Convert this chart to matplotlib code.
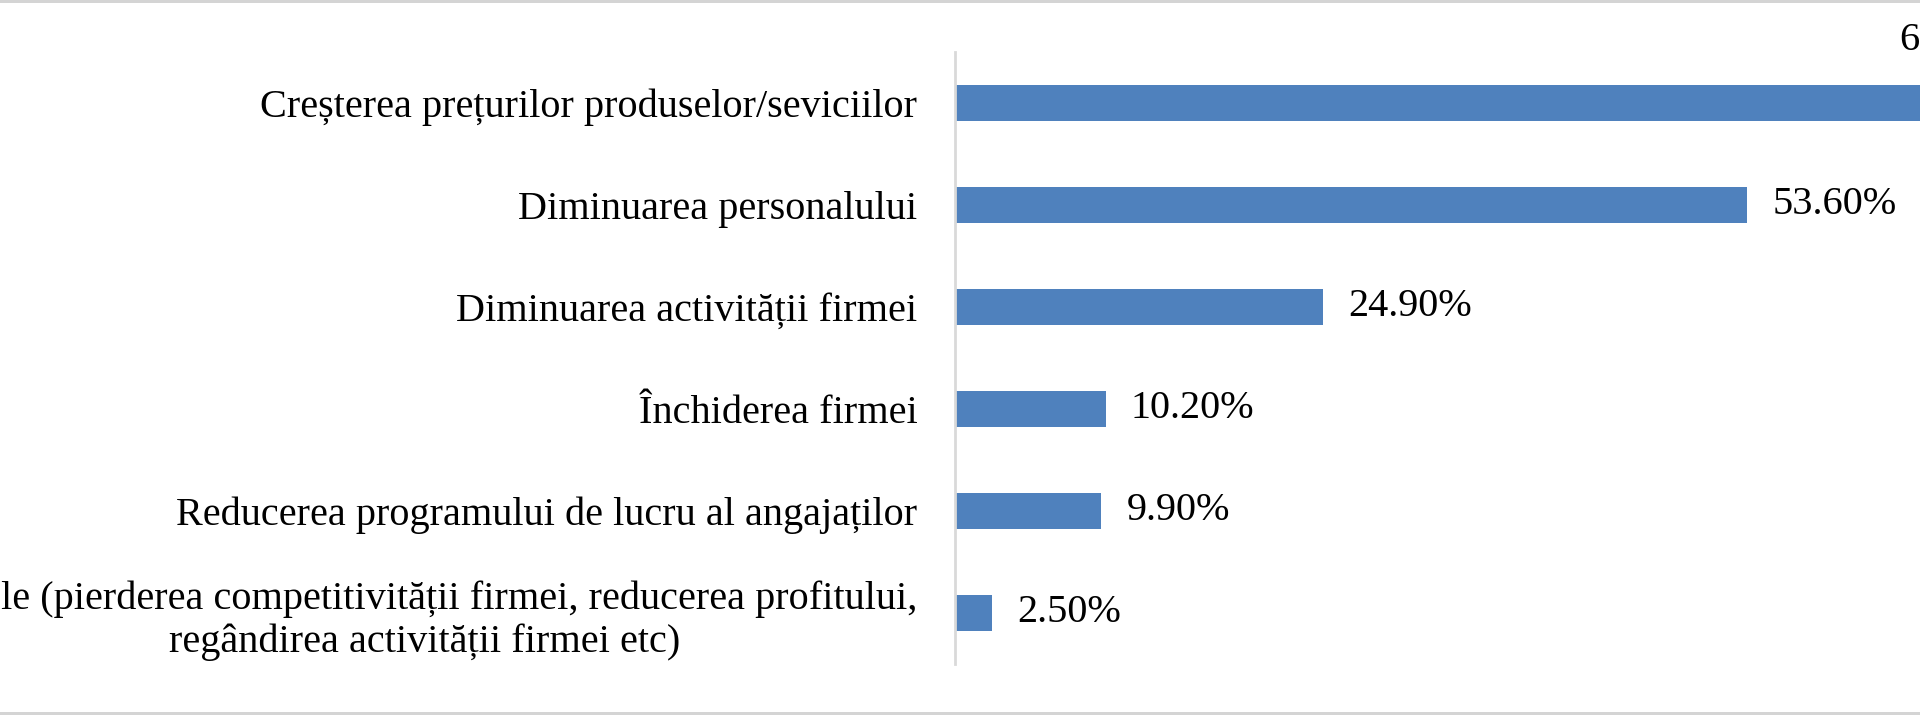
import matplotlib
matplotlib.use("Agg")
import matplotlib.pyplot as plt
from matplotlib.patches import Rectangle

categories = [
    "Creșterea prețurilor produselor/seviciilor",
    "Diminuarea personalului",
    "Diminuarea activității firmei",
    "Închiderea firmei",
    "Reducerea programului de lucru al angajaților",
    "Altele (pierderea competitivității firmei, reducerea profitului,\nregândirea activității firmei etc)",
]
values = [67.30, 53.60, 24.90, 10.20, 9.90, 2.50]
value_labels = ["67.30%", "53.60%", "24.90%", "10.20%", "9.90%", "2.50%"]

plt.rcParams['font.family'] = ['Liberation Serif', 'DejaVu Serif']
FS = 29
W, H = 1920, 715
fig = plt.figure(figsize=(W / 100, H / 100), dpi=100)
fig.patch.set_facecolor('white')

px_per_unit = 14.78
x_max = 70
ax_left = 955
ax_top, ax_bot = 52, 664
ax = fig.add_axes([ax_left / W, 1 - ax_bot / H, x_max * px_per_unit / W, (ax_bot - ax_top) / H])

ypos = list(range(len(categories)))
ax.barh(ypos, values, height=0.35, color='#4F81BD', zorder=2)
ax.set_xlim(0, x_max)
ax.set_ylim(len(categories) - 0.5, -0.5)
ax.set_yticks(ypos)
ax.set_yticklabels(categories, fontsize=FS)
for lab in ax.get_yticklabels():
    lab.set_multialignment('center')
    lab.set_linespacing(1.22)
ax.tick_params(axis='y', length=0, pad=27)
ax.set_xticks([])
for s in ['top', 'right', 'bottom']:
    ax.spines[s].set_visible(False)
ax.spines['left'].set_color('#d9d9d9')
ax.spines['left'].set_linewidth(2)
ax.patch.set_alpha(0)

for i, (v, t) in enumerate(zip(values, value_labels)):
    if i == 0:
        ax.annotate(t, (v, i), xytext=(-50, 62), textcoords='offset pixels',
                    ha='left', va='center', fontsize=FS, annotation_clip=False)
    else:
        ax.annotate(t, (v, i), xytext=(25, 0), textcoords='offset pixels',
                    ha='left', va='center', fontsize=FS)

# chart frame borders (top and bottom visible)
fig.add_artist(Rectangle((0, 1 - 3 / H), 1, 3 / H, transform=fig.transFigure,
                         facecolor='#d4d4d4', edgecolor='none'))
fig.add_artist(Rectangle((0, 0), 1, 3 / H, transform=fig.transFigure,
                         facecolor='#d4d4d4', edgecolor='none'))

fig.savefig('out.png', dpi=100)
